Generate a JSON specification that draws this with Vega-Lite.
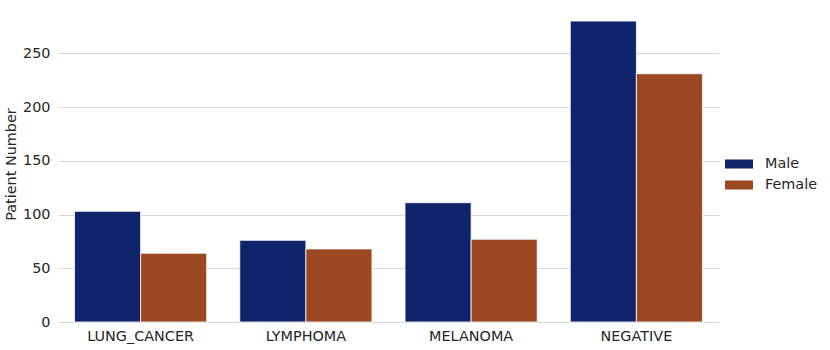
{
  "$schema": "https://vega.github.io/schema/vega-lite/v6.json",
  "autosize": "none",
  "width": 661,
  "height": 316,
  "padding": {"left": 58, "top": 6, "right": 111, "bottom": 28},
  "background": "white",
  "config": {
    "view": {"stroke": null},
    "font": "DejaVu Sans",
    "axis": {"labelFont": "DejaVu Sans", "titleFont": "DejaVu Sans", "labelColor": "#262626", "titleColor": "#262626", "labelFontSize": 14.4, "titleFontSize": 14.4, "titleFontWeight": "normal"}
  },
  "data": {
    "values": [
      {"diagnosis": "LUNG_CANCER", "sex": "Male", "count": 103},
      {"diagnosis": "LUNG_CANCER", "sex": "Female", "count": 64},
      {"diagnosis": "LYMPHOMA", "sex": "Male", "count": 76},
      {"diagnosis": "LYMPHOMA", "sex": "Female", "count": 68},
      {"diagnosis": "MELANOMA", "sex": "Male", "count": 111},
      {"diagnosis": "MELANOMA", "sex": "Female", "count": 77},
      {"diagnosis": "NEGATIVE", "sex": "Male", "count": 280},
      {"diagnosis": "NEGATIVE", "sex": "Female", "count": 231}
    ]
  },
  "mark": {"type": "bar", "stroke": "white", "strokeWidth": 1, "strokeOpacity": 0.8},
  "encoding": {
    "x": {
      "field": "diagnosis", "type": "nominal", "sort": null,
      "scale": {"paddingInner": 0.2, "paddingOuter": 0.1},
      "axis": {"title": null, "labelAngle": 0, "ticks": false, "domain": false, "labelPadding": 7, "grid": false}
    },
    "xOffset": {"field": "sex", "type": "nominal", "sort": ["Male", "Female"], "scale": {"paddingInner": 0, "paddingOuter": 0}},
    "y": {
      "field": "count", "type": "quantitative",
      "scale": {"domain": [0, 294], "nice": false},
      "axis": {"title": "Patient Number", "values": [0, 50, 100, 150, 200, 250], "ticks": false, "domain": false, "gridColor": "#d9d9d9", "gridWidth": 1, "labelPadding": 8, "titlePadding": 4}
    },
    "color": {
      "field": "sex", "type": "nominal", "sort": ["Male", "Female"],
      "scale": {"domain": ["Male", "Female"], "range": ["#10246c", "#9c4923"]},
      "legend": {
        "title": null, "orient": "none", "legendX": 671, "legendY": 148, "padding": 0,
        "symbolType": "M-1.4,-0.45H1.4V0.45H-1.4Z", "symbolSize": 400, "symbolStrokeWidth": 0, "symbolOpacity": 1,
        "labelOffset": 16, "labelFontSize": 14.4, "labelFont": "DejaVu Sans", "labelColor": "#262626", "rowPadding": 4
      }
    }
  }
}
